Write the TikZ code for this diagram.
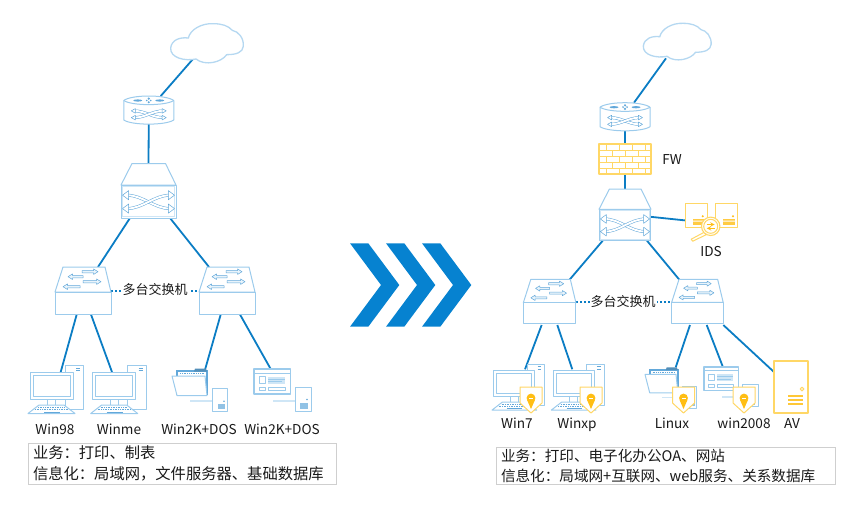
\documentclass[tikz,border=0pt]{standalone}
\usepackage{fontspec}
\setmainfont{Noto Sans CJK SC}
\newcommand\fwcolon{\char"FF1A\relax}
\newcommand\fwcomma{\char"FF0C\relax}
\definecolor{iconblue}{HTML}{9CCBEC}
\definecolor{icondark}{HTML}{62A8DA}
\definecolor{iconpale}{HTML}{CFE6F6}
\definecolor{linkblue}{HTML}{0B7DC4}
\definecolor{chev}{HTML}{0682D0}
\definecolor{ybright}{HTML}{FFD766}
\definecolor{yamber}{HTML}{FFBE14}
\definecolor{boxgray}{HTML}{CFCFCF}
\tikzset{
  hit/.style 2 args={rectangle,inner sep=0pt,outer sep=0pt,minimum width=#1,minimum height=#2},
  icon/.style={draw=iconblue,line width=1pt,line join=round},
  iconthin/.style={draw=icondark,line width=.5pt,line join=round},
  yicon/.style={draw=ybright,line width=1pt,line join=round},
  link/.style={draw=linkblue,line width=1.8pt},
  dotlink/.style={draw=linkblue,line width=1.5pt,dash pattern=on 1.8pt off 2.2pt},
  lab/.style={inner sep=0pt,text height=10pt,text depth=3pt,font=\fontsize{13.6}{15}\selectfont,text=black!90},
  cnlab/.style={inner sep=0pt,text height=11pt,text depth=2pt,font=\fontsize{13}{15}\selectfont,text=black!90},
  infobox/.style={draw=boxgray,line width=1pt,rectangle,inner xsep=5pt,inner ysep=0pt,align=left,
     minimum height=#1,font=\fontsize{15.3}{21}\selectfont,text=black!90},
}
\newcommand\myharrow[4]{%
  \draw[iconthin,fill=iconpale!45] ({#1},{#3-1.1}) -- ({#2-#4*4.5},{#3-1.1}) -- ({#2-#4*4.5},{#3-2.8}) -- ({#2},{#3})
    -- ({#2-#4*4.5},{#3+2.8}) -- ({#2-#4*4.5},{#3+1.1}) -- ({#1},{#3+1.1}) -- cycle;}
\newcommand\myxarrows{%
  \draw[iconthin,double=white,double distance=1.9pt] (4,6.5) .. controls (20,6.5) and (30,19.5) .. (46,19.5);
  \draw[iconthin,double=white,double distance=1.9pt] (4,19.5) .. controls (20,19.5) and (30,6.5) .. (46,6.5);
  \foreach \yy in {6.5,19.5}{
    \draw[iconthin,fill=white] (0,\yy) -- (6,\yy-4.5) -- (6,\yy+4.5) -- cycle;
    \draw[iconthin,fill=white] (50,\yy) -- (44,\yy-4.5) -- (44,\yy+4.5) -- cycle;
  }}
\tikzset{
  icCloud/.pic={
    \draw[draw=iconblue!75,line width=1.3pt,fill=white] (2,75) .. controls (5,50) and (30,42) .. (55,45)
      .. controls (60,20) and (95,0) .. (130,2) .. controls (155,2) and (175,8) .. (187,22)
      .. controls (205,25) and (222,45) .. (220,70) .. controls (218,88) and (200,95) .. (170,95)
      .. controls (155,118) and (105,130) .. (78,108) .. controls (45,115) and (0,105) .. (2,75) -- cycle;
  },
  icRouter/.pic={
    \draw[icon,fill=white] (0,4.5) -- (0,24) .. controls (8,29.5) and (42,29.5) .. (50,24) -- (50,4.5)
       .. controls (42,-1.5) and (8,-1.5) .. (0,4.5) -- cycle;
    \draw[icon] (0,4.5) .. controls (8,10) and (42,10) .. (50,4.5);
    \fill[icondark] (14,4.5) ellipse [x radius=4.5,y radius=1.1];
    \fill[icondark] (36,4.5) ellipse [x radius=4.5,y radius=1.1];
    \fill[icondark] (25,2.6) circle (1.2) (25,6.2) circle (1.2) (23,4.4) circle (.9) (27,4.4) circle (.9);
    \begin{scope}[shift={(7.5,11.5)},xscale=.7,yscale=.52]\myxarrows\end{scope}
  },
  icCore/.pic={
    \draw[icon,fill=white] (11,0) -- (44.5,0) -- (55,21.5) -- (0,21.5) -- cycle;
    \draw[icon,fill=white] (0,21.5) rectangle (55,54.5);
    \draw[draw=iconpale,line width=.8pt] (1.5,23) rectangle (53.5,53);
    \begin{scope}[shift={(1.5,25)},xscale=1.04,yscale=1.03]\myxarrows\end{scope}
  },
  icSwitch/.pic={
    \draw[icon,fill=white] (8,0) -- (50,0) -- (56,25) -- (0,25) -- cycle;
    \draw[icon,fill=white] (0,25) rectangle (56,47.5);
    \myharrow{27}{43}{4.7}{1}
    \myharrow{28}{13}{9.7}{-1}
    \myharrow{28}{46}{14.7}{1}
    \myharrow{25}{8}{19.7}{-1}
  },
  icPC/.pic={
    \draw[icon,fill=white] (37,0) rectangle (55.5,44);
    \draw[draw=icondark,line width=.8pt] (48,3) -- (52,3) (48,5.5) -- (52,5.5);
    \draw[icon,fill=white] (2,7) rectangle (45,34);
    \draw[icon] (5,10) rectangle (42,31);
    \draw[icon] (19.5,34) -- (19.5,40) (27.5,34) -- (27.5,40);
    \draw[icon,fill=white] (11,40) -- (36,40) -- (47,48.5) -- (0,48.5) -- cycle;
    \draw[draw=icondark,line width=.8pt,dash pattern=on .8pt off .9pt] (10,42.3) -- (37,42.3) (7,44.6) -- (40,44.6);
    \draw[draw=icondark,line width=.8pt] (16,47) -- (32,47);
  },
  icFolder/.pic={
    \draw[draw=iconpale,line width=1.6pt] (18,33.7) -- (40.3,33.7);
    \draw[icon,fill=white] (40.3,21.3) rectangle (55.3,44.7);
    \fill[icondark!70] (45.6,36.7) rectangle (52.9,42.4);
    \fill[icondark] (52,34.3) circle (.9);
    \draw[draw=icondark,line width=1.7pt,fill=white] (5,28) -- (5,4) -- (35,4) -- (35,28);
    \fill[icondark!85!black] (23,1.5) -- (34,1.5) -- (35,4.5) -- (22,4.5) -- cycle;
    \draw[draw=icondark,line width=.9pt,dash pattern=on .9pt off .9pt] (8,6.5) -- (32,6.5);
    \draw[icon,fill=white] (0,9) -- (33,9) -- (35,28.5) -- (5,28.5) -- cycle;
  },
  icWeb/.pic={
    \draw[draw=iconpale,line width=1.6pt] (19,31.7) -- (41,31.7);
    \draw[icon,fill=white] (41,18.5) rectangle (57,42);
    \fill[icondark!70] (46,33.5) rectangle (54,39.5);
    \fill[icondark] (53,30.5) circle (.9);
    \draw[icon,line width=1.1pt,fill=white] (0,0) rectangle (36.4,25);
    \draw[icon] (0,4) -- (36.4,4);
    \draw[icon] (5,7.5) rectangle (11.5,14.5) (5,18) rectangle (11.5,21.5) (14,18) rectangle (31,21.5);
    \fill[iconpale] (14,7.5) rectangle (31,15);
    \draw[draw=iconblue,line width=.6pt] (14,10) -- (31,10) (14,12.5) -- (28,12.5);
  },
  icShield/.pic={
    \draw[yicon,fill=white] (0,0) -- (22,0) -- (22,16) -- (11,26) -- (0,16) -- cycle;
    \fill[yamber] (11,11) circle (4.4);
    \fill[yamber] (6.9,12.6) -- (11,22) -- (15.1,12.6) -- cycle;
    \fill[white] (9,11.2) rectangle (13,12.4);
  },
  icFirewall/.pic={
    \draw[yicon,fill=white,line width=1.2pt] (0,0) rectangle (52,30);
    \foreach \yy in {6,12,18,24} \draw[yicon] (0,\yy) -- (52,\yy);
    \foreach \xx in {7,20,33,46} {\draw[yicon] (\xx,0) -- (\xx,6) (\xx,12) -- (\xx,18) (\xx,24) -- (\xx,30);}
    \foreach \xx in {13,26,39} {\draw[yicon] (\xx,6) -- (\xx,12) (\xx,18) -- (\xx,24);}
  },
  icIDS/.pic={
    \draw[yicon,fill=white] (0,0) rectangle (22,23.3);
    \draw[yicon,fill=white] (30,0) rectangle (51.3,23.3);
    \fill[yamber!80] (7,15) rectangle (19.5,21.5);
    \fill[yamber!80] (37.5,15) rectangle (49.5,21.5);
    \fill[white] (7,17) rectangle (19.5,17.8) (37.5,17) rectangle (49.5,17.8);
    \fill[yamber] (17,12.6) circle (1.1) (47.3,12.6) circle (1.1);
    \draw[yicon,fill=white] (18.6,28.5) -- (5.5,35.5) -- (7,37.5) -- (20.5,31) -- cycle;
    \draw[yicon,fill=white,line width=1.1pt] (25,22.6) circle (9.2);
    \draw[yicon] (25,22.6) circle (7);
    \draw[draw=yamber,line width=1pt,-stealth] (21,20.8) -- (29,20.8);
    \draw[draw=yamber,line width=1pt,-stealth] (29,24.6) -- (21,24.6);
  },
  icAV/.pic={
    \draw[yicon,line width=1.4pt,fill=white] (0,0) rectangle (34,52);
    \draw[yicon] (28,28) circle (1.9);
    \draw[draw=yamber!85,line width=1.2pt] (14,35) -- (29,35) (14,39) -- (29,39) (14,43) -- (29,43);
  },
}
\begin{document}
\begin{tikzpicture}[x=1pt,y=-1pt]
\useasboundingbox (0,0) rectangle (856,507);
% --- anchors of the left network
\node[hit={74pt}{42pt}] (cloudL) at (207,44) {};
\node[hit={50pt}{28pt}] (routerL) at (148.75,110) {};
\node[hit={55pt}{54.5pt}] (coreL) at (148.5,190.75) {};
\node[hit={56pt}{47.5pt}] (swA) at (83,290.75) {};
\node[hit={56pt}{47.5pt}] (swB) at (227,290.75) {};
\node[hit={56pt}{49pt}] (pcA) at (56,389.5) {};
\node[hit={56pt}{49pt}] (pcB) at (118.7,389.5) {};
\node[hit={55.3pt}{45pt}] (fileA) at (199.65,389.5) {};
\node[hit={57pt}{42pt}] (webA) at (282.5,390) {};
% --- anchors of the right network
\node[hit={69pt}{39pt}] (cloudR) at (677.2,42.2) {};
\node[hit={50pt}{28pt}] (routerR) at (625,116.7) {};
\node[hit={52pt}{30pt}] (fw) at (625,159) {};
\node[hit={52pt}{51.7pt}] (coreR) at (625,214.85) {};
\node[hit={51.3pt}{37.5pt}] (ids) at (711.35,222.45) {};
\node[hit={52.7pt}{45.7pt}] (swC) at (549.65,302.15) {};
\node[hit={51.7pt}{45.7pt}] (swD) at (697.5,302.15) {};
\node[hit={53.2pt}{46.6pt}] (pcC) at (518.6,387.3) {};
\node[hit={53.2pt}{46.6pt}] (pcD) at (577.9,387.3) {};
\node[hit={52pt}{42.3pt}] (fileB) at (671,387.15) {};
\node[hit={54pt}{40pt}] (webB) at (731,387) {};
\node[hit={34pt}{52pt}] (av) at (791,387) {};
% --- connectors, left
\draw[link] ([xshift=-14pt,yshift=6pt]cloudL.south) -- ([xshift=12pt]routerL.north);
\draw[link] (routerL.south) -- (coreL.north);
\draw[link] ([xshift=-18.5pt]coreL.south) -- ([xshift=15pt]swA.north);
\draw[link] ([xshift=21.5pt]coreL.south) -- ([xshift=-18pt]swB.north);
\draw[link] ([xshift=-6.3pt]swA.south) -- ([xshift=4.7pt,yshift=-7pt]pcA.north);
\draw[link] ([xshift=8pt]swA.south) -- ([xshift=-6.7pt,yshift=-7pt]pcB.north);
\draw[link] ([xshift=-6.3pt]swB.south) -- ([xshift=5.3pt,yshift=-3pt]fileA.north);
\draw[link] ([xshift=13pt]swB.south) -- ([xshift=-11.8pt]webA.north);
\draw[dotlink] (swA.east) -- (swB.west);
% --- connectors, right
\draw[link] ([xshift=-11.2pt,yshift=3.4pt]cloudR.south) -- ([xshift=9pt]routerR.north);
\draw[link] (routerR.south) -- (fw.north);
\draw[link] (fw.south) -- (coreR.north);
\draw[link] ([yshift=-2pt]coreR.east) -- ([yshift=2pt]ids.west);
\draw[link] ([xshift=-22.3pt]coreR.south) -- ([xshift=17.35pt,yshift=-3.4pt]swC.north);
\draw[link] ([xshift=22pt]coreR.south) -- ([xshift=-16.5pt,yshift=-2.4pt]swD.north);
\draw[link] ([xshift=-8pt]swC.south) -- ([xshift=6.4pt,yshift=-5.3pt]pcC.north);
\draw[link] ([xshift=7.65pt]swC.south) -- ([xshift=-5.6pt,yshift=-5.3pt]pcD.north);
\draw[link] ([xshift=-7.5pt]swD.south) -- ([xshift=4.7pt,yshift=-1.3pt]fileB.north);
\draw[link] ([xshift=9.2pt]swD.south) -- ([xshift=-7.7pt,yshift=-1pt]webB.north);
\draw[link] ([xshift=25.8pt]swD.south) -- ([yshift=15pt]av.west);
\draw[dotlink] (swC.east) -- (swD.west);
% --- icons, left
\pic[scale=.3333] at (cloudL.north west) {icCloud};
\pic at (routerL.north west) {icRouter};
\pic at (coreL.north west) {icCore};
\pic at (swA.north west) {icSwitch};
\pic at (swB.north west) {icSwitch};
\pic at (pcA.north west) {icPC};
\pic at (pcB.north west) {icPC};
\pic at (fileA.north west) {icFolder};
\pic at (webA.north west) {icWeb};
% --- icons, right
\pic[scale=.311] at (cloudR.north west) {icCloud};
\pic at (routerR.north west) {icRouter};
\pic at (fw.north west) {icFirewall};
\pic[scale=.945] at (coreR.north west) {icCore};
\pic at (ids.north west) {icIDS};
\pic[scale=.94] at (swC.north west) {icSwitch};
\pic[scale=.92] at (swD.north west) {icSwitch};
\pic[scale=.95] at (pcC.north west) {icPC};
\pic[scale=.95] at (pcD.north west) {icPC};
\pic[scale=.94] at (fileB.north west) {icFolder};
\pic[scale=.95] at (webB.north west) {icWeb};
\pic at (av.north west) {icAV};
\node[hit={22pt}{26pt}] (shA) at (531,400) {};
\node[hit={22pt}{26pt}] (shB) at (591,400) {};
\node[hit={22pt}{26pt}] (shC) at (683.5,400) {};
\node[hit={22pt}{26pt}] (shD) at (744,400) {};
\pic at (shA.north west) {icShield};
\pic at (shB.north west) {icShield};
\pic at (shC.north west) {icShield};
\pic at (shD.north west) {icShield};
% --- chevrons
\foreach \cx in {0,36,72}{
  \fill[chev] (350+\cx,243.3) -- (368.3+\cx,243.3) -- (399.3+\cx,285) -- (368.3+\cx,326.7)
     -- (350+\cx,326.7) -- (381+\cx,285) -- cycle;
}
% --- labels
\node[cnlab,fill=white,inner xsep=1pt,inner ysep=1pt] (multiL) at (155,290) {多台交换机};
\node[cnlab,fill=white,inner xsep=1pt,inner ysep=1pt] (multiR) at (623,301.5) {多台交换机};
\node[lab] (t1) at (55,431) {Win98};
\node[lab] (t2) at (119,431) {Winme};
\node[lab] (t3) at (199,431) {Win2K+DOS};
\node[lab] (t4) at (282,431) {Win2K+DOS};
\node[lab] (t5) at (517,425) {Win7};
\node[lab] (t6) at (577,425) {Winxp};
\node[lab] (t7) at (672,425) {Linux};
\node[lab] (t8) at (744,425) {win2008};
\node[lab] (t9) at (792,425) {AV};
\node[lab] (t10) at (672,160.5) {FW};
\node[lab] (t11) at (711,253) {IDS};
\node[infobox=41pt,text width=298pt] (infoL) at (182,463.5) {业务\fwcolon 打印、制表\\信息化\fwcolon 局域网\fwcomma 文件服务器、基础数据库};
\node[infobox=37pt,text width=329pt,font=\fontsize{14.6}{20}\selectfont] (infoR) at (665.5,465.5) {业务\fwcolon 打印、电子化办公OA、网站\\信息化\fwcolon 局域网+互联网、web服务、关系数据库};
\end{tikzpicture}
\end{document}
